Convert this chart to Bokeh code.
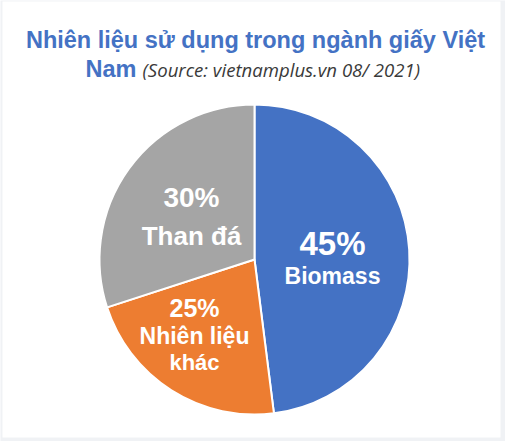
import math
from bokeh.plotting import figure
from bokeh.models import Range1d, ColumnDataSource
from bokeh.core.properties import value
from bokeh.embed import file_html
from bokeh.resources import INLINE

# ---- data ----
categories = ["Biomass", "Nhiên liệu khác", "Than đá"]
shares = [48, 22, 30]               # slice sizes as drawn in the picture
pct_labels = ["45%", "25%", "30%"]  # percentages as printed on the slices
name_lines = [["Biomass"], ["Nhiên liệu", "khác"], ["Than đá"]]
colors = ["#4472C4", "#ED7D31", "#A5A5A5"]

title_line1 = "Nhiên liệu sử dụng trong ngành giấy Việt"
title_line2a = "Nam"
title_line2b = "(Source: vietnamplus.vn 08/ 2021)"

# ---- layout (page pixel coordinates, y measured from top) ----
W, H = 505, 441


def Y(t):
    return H - t


cx, cy, R = 254, 259, 155

p = figure(width=W, height=H, output_backend="svg", toolbar_location=None,
           x_range=Range1d(0, W), y_range=Range1d(0, H), min_border=0,
           outline_line_color=None)
p.axis.visible = False
p.grid.visible = False
p.background_fill_color = "#F0F2F5"
p.border_fill_color = "#F0F2F5"

# white card
p.quad(left=2, right=500, top=Y(1), bottom=Y(437), fill_color="white",
       line_color=None)

total = sum(shares)
starts, ends = [], []
acc = 0.0
for s in shares:
    a0 = acc / total * 2 * math.pi
    acc += s
    a1 = acc / total * 2 * math.pi
    starts.append(math.pi / 2 - a0)
    ends.append(math.pi / 2 - a1)

src = ColumnDataSource(dict(start=starts, end=ends, color=colors, cat=categories))
p.wedge(x=cx, y=Y(cy), radius=R, start_angle="start", end_angle="end",
        direction="clock", fill_color="color", line_color="white",
        line_width=2, source=src)

# label anchors (page px) and line specs (offset from anchor, font size)
anchors = [(332, 259), (194, 335), (191, 217)]
line_specs = [
    [(-16, "33px"), (16, "23px")],
    [(-28, "25px"), (0, "23px"), (27, "22px")],
    [(-20, "28px"), (18, "26px")],
]
for i in range(3):
    texts = [pct_labels[i]] + name_lines[i]
    ax, ay = anchors[i]
    for t, (off, size) in zip(texts, line_specs[i]):
        p.text(x=[ax], y=[Y(ay + off)], text=[t], text_color="white",
               text_font=value("Liberation Sans"), text_font_style="bold",
               text_font_size=size, text_align="center", text_baseline="middle")

# title
p.text(x=[255], y=[Y(39)], text=[title_line1], text_color="#4472C4",
       text_font=value("Liberation Sans"), text_font_style="bold",
       text_font_size="23.5px", text_align="center", text_baseline="middle")
p.text(x=[85], y=[Y(68)], text=[title_line2a], text_color="#4472C4",
       text_font=value("Liberation Sans"), text_font_style="bold",
       text_font_size="23.5px", text_align="left", text_baseline="middle")
p.text(x=[142], y=[Y(69)], text=[title_line2b], text_color="#3A3A3A",
       text_font=value("Open Sans"), text_font_style="italic",
       text_font_size="18.6px", text_align="left", text_baseline="middle")

open("out.html", "w").write(file_html(p, INLINE))
